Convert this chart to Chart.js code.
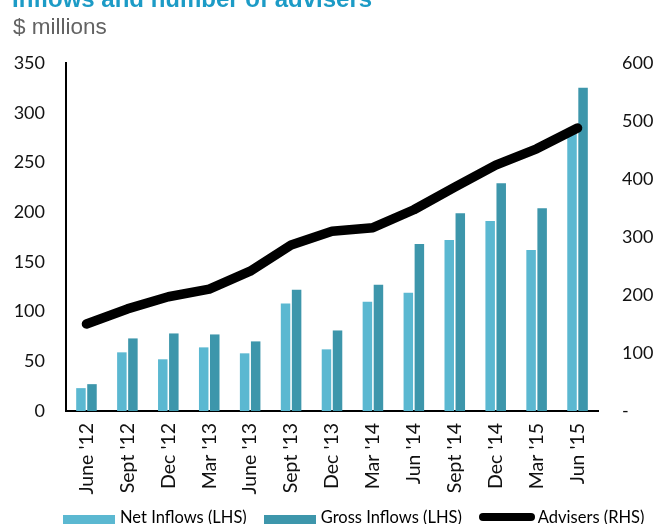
<!DOCTYPE html>
<html>
<head>
<meta charset="utf-8">
<script src="https://cdn.jsdelivr.net/npm/chart.js@4.4.1/dist/chart.umd.min.js"></script>
<style>
  html, body { margin: 0; padding: 0; background: #fff; }
  #wrap { position: relative; width: 664px; height: 524px; overflow: hidden; }
  #chart { position: absolute; left: 0; top: 0; }
  .title { position: absolute; left: 12px; top: -13px; font: bold 24px "Liberation Sans", Arial, sans-serif; line-height: 24px; color: #1c9bc6; white-space: nowrap; }
  .subtitle { position: absolute; left: 13px; top: 15px; font: 22.5px "Liberation Sans", Arial, sans-serif; line-height: 23px; color: #636363; white-space: nowrap; }
  #legend { position: absolute; left: 63px; top: 505px; display: flex; align-items: center; font: 16.5px Lato, sans-serif; color: #000; white-space: nowrap; }
  .item { display: flex; align-items: center; margin-right: 17px; }
  .sw { width: 52px; height: 14px; margin-right: 5px; margin-top: 10px; }
  .ln { width: 56px; height: 8px; border-radius: 4px; background: #000; margin-right: 3px; }
</style>
</head>
<body>
<div id="wrap">
  <canvas id="chart" width="664" height="524"></canvas>
  <div class="title">Inflows and number of advisers</div>
  <div class="subtitle">$ millions</div>
  <div id="legend"></div>
</div>
<script>
  // quarters
  const labels = ["June '12", "Sept '12", "Dec '12", "Mar '13", "June '13", "Sept '13", "Dec '13",
                  "Mar '14", "Jun '14", "Sept '14", "Dec '14", "Mar '15", "Jun '15"];

  // $ millions (LHS)
  const netInflows = [23, 59, 52, 64, 58, 108, 62, 110, 119, 172, 191, 162, 280];
  const grossInflows = [27, 73, 78, 77, 70, 122, 81, 127, 168, 199, 229, 204, 325];

  // number of advisers (RHS)
  const advisers = [150, 176, 197, 210, 241, 286, 310, 316, 347, 386, 424, 452, 488];

  const netColor = "#5bb8d1";
  const grossColor = "#3d96ab";

  const ctx = document.getElementById("chart").getContext("2d");

  new Chart(ctx, {
    type: "bar",
    data: {
      labels: labels,
      datasets: [
        {
          type: "line",
          label: "Advisers (RHS)",
          data: advisers,
          yAxisID: "y1",
          borderColor: "#000",
          backgroundColor: "#000",
          borderWidth: 9.5,
          borderCapStyle: "round",
          borderJoinStyle: "round",
          pointRadius: 0,
          tension: 0,
          order: 0,
        },
        {
          label: "Net Inflows (LHS)",
          data: netInflows,
          yAxisID: "y",
          backgroundColor: netColor,
          categoryPercentage: 0.54,
          barPercentage: 0.86,
          order: 1,
        },
        {
          label: "Gross Inflows (LHS)",
          data: grossInflows,
          yAxisID: "y",
          backgroundColor: grossColor,
          categoryPercentage: 0.54,
          barPercentage: 0.86,
          order: 1,
        },
      ],
    },
    options: {
      responsive: false,
      animation: false,
      layout: { padding: { top: 63, bottom: 18, left: 0, right: 0 } },
      plugins: {
        legend: { display: false },
        tooltip: { enabled: false },
      },
      scales: {
        x: {
          grid: { display: false, drawTicks: false },
          border: { color: "#000", width: 2 },
          ticks: {
            minRotation: 90,
            maxRotation: 90,
            padding: 12,
            color: "#111",
            font: { family: "Lato", size: 19.5 },
          },
          afterFit: (scale) => { scale.height = 95; },
        },
        y: {
          position: "left",
          min: 0,
          max: 350,
          grid: { display: false, drawTicks: false },
          border: { color: "#000", width: 2 },
          ticks: {
            stepSize: 50,
            padding: 21,
            color: "#111",
            font: { family: "Lato", size: 18 },
          },
          afterFit: (scale) => { scale.width = 66; },
        },
        y1: {
          position: "right",
          min: 0,
          max: 600,
          grid: { display: false, drawTicks: false },
          border: { display: false },
          ticks: {
            stepSize: 100,
            padding: 24,
            color: "#111",
            font: { family: "Lato", size: 18 },
            callback: (v) => (v === 0 ? "-" : v),
          },
          afterFit: (scale) => { scale.width = 66; },
        },
      },
    },
  });

  // legend
  const legend = document.getElementById("legend");
  [
    { text: "Net Inflows (LHS)", color: netColor },
    { text: "Gross Inflows (LHS)", color: grossColor },
    { text: "Advisers (RHS)", line: true },
  ].forEach((it) => {
    const el = document.createElement("div");
    el.className = "item";
    const sw = document.createElement("span");
    if (it.line) {
      sw.className = "ln";
    } else {
      sw.className = "sw";
      sw.style.background = it.color;
    }
    const tx = document.createElement("span");
    tx.textContent = it.text;
    el.appendChild(sw);
    el.appendChild(tx);
    legend.appendChild(el);
  });
</script>
</body>
</html>
